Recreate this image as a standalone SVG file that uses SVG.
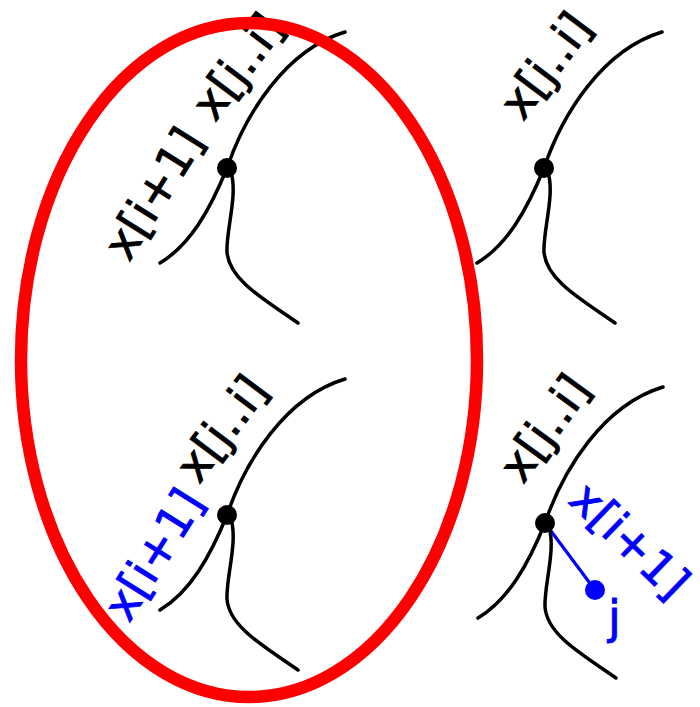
<svg xmlns="http://www.w3.org/2000/svg" width="700" height="707" viewBox="0 0 700 707">
<defs>
<style>
.br{fill:none;stroke:#000;stroke-width:3.5;stroke-linecap:round}
.lbl{font-family:"DejaVu Sans",sans-serif;font-size:46px;fill:#000;stroke:#000;stroke-width:0.9}
.blue{fill:#0000ff;stroke:#0000ff}
.dot{fill:#000}
</style>
<g id="tree">
<path class="br" d="M160,263 C190,245 210,210 227,168 C245,115 285,50 345,32"/>
<path class="br" d="M231,172 C238,195 226,230 227,252 C229,280 265,300 298,323"/>
<circle class="dot" cx="227" cy="168" r="10"/>
</g>
</defs>
<g id="connectors">
<line x1="545" y1="523" x2="595" y2="590" stroke="#0000ff" stroke-width="3.2"/>
</g>
<g id="tree-top-left"><use href="#tree"/></g>
<g id="tree-top-right"><use href="#tree" transform="translate(317,0)"/></g>
<g id="tree-bottom-left"><use href="#tree" transform="translate(0,347)"/></g>
<g id="tree-bottom-right"><use href="#tree" transform="translate(318,355)"/></g>
<g id="node-j"><circle cx="595" cy="590" r="10" fill="#0000ff"/><text class="lbl blue" x="608" y="633">j</text></g>
<g id="labels">
<text class="lbl" transform="translate(129,263) rotate(-58)">x[i+1]</text>
<text class="lbl" transform="translate(215,123) rotate(-53)">x[j..i]</text>
<text class="lbl" transform="translate(523,122) rotate(-53)">x[j..i]</text>
<text class="lbl" transform="translate(199,485) rotate(-53)">x[j..i]</text>
<text class="lbl blue" transform="translate(129,624) rotate(-58)">x[i+1]</text>
<text class="lbl" transform="translate(523,485) rotate(-54)">x[j..i]</text>
<text class="lbl blue" transform="translate(567,502) rotate(44)">x[i+1]</text>
</g>
<ellipse id="circle" cx="249" cy="360" rx="228" ry="337" fill="none" stroke="#ff0000" stroke-width="12.5"/>
</svg>
